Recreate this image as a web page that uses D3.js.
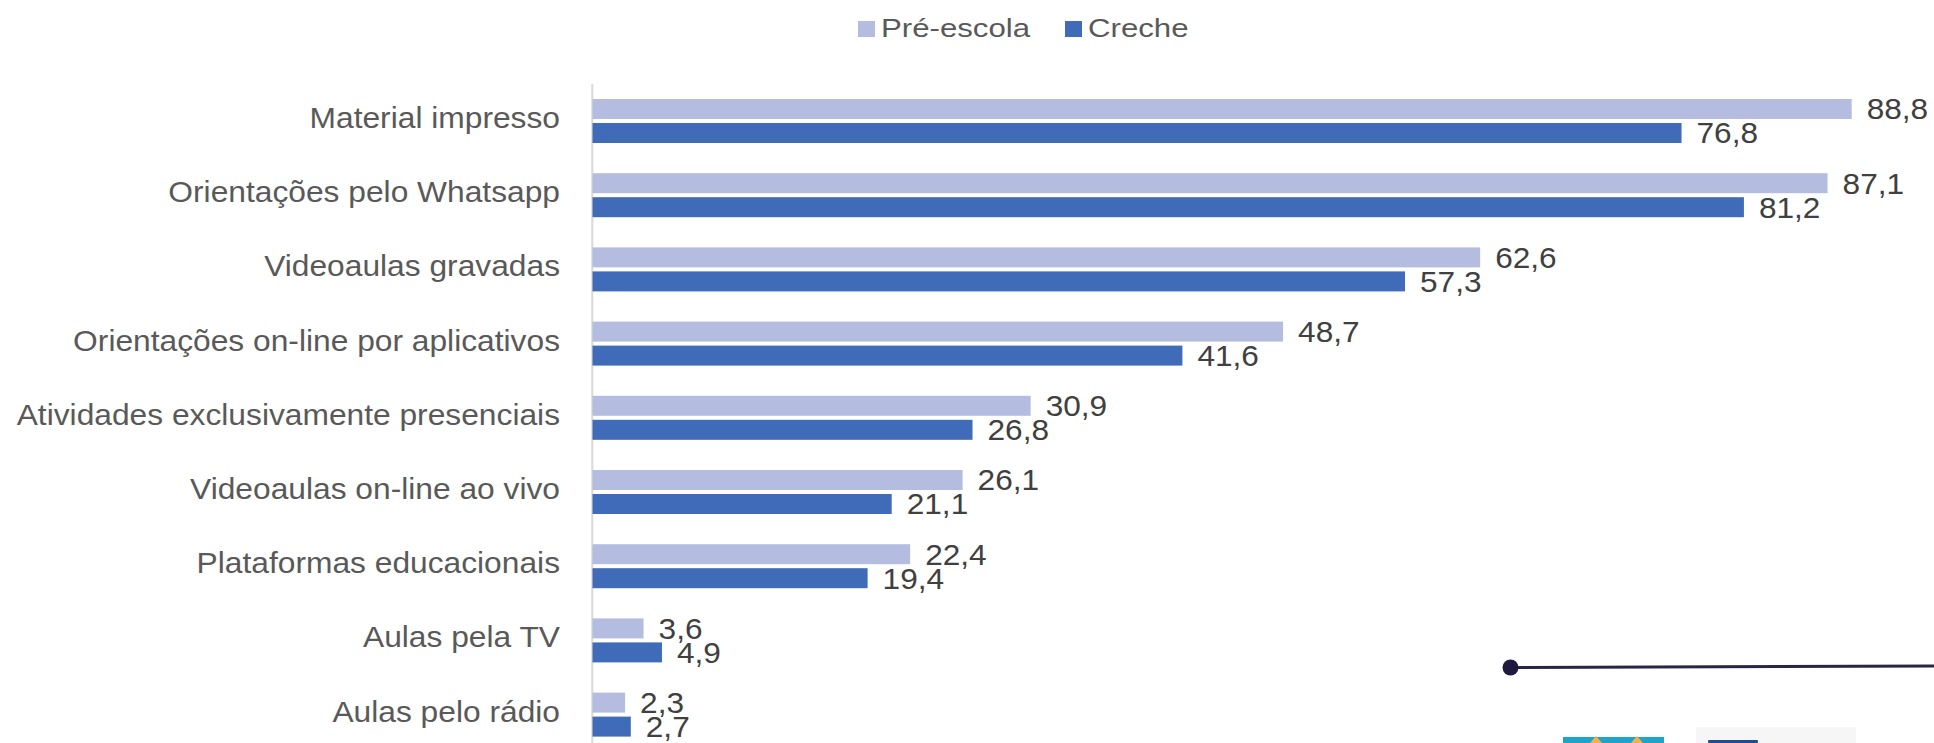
<!DOCTYPE html>
<html>
<head>
<meta charset="utf-8">
<script src="https://cdn.jsdelivr.net/npm/d3@7"></script>
<style>
  html, body { margin: 0; padding: 0; background: #ffffff; }
  svg { display: block; font-family: "Liberation Sans", Arial, sans-serif; }
</style>
</head>
<body>
<svg id="chart" width="1934" height="743"></svg>
<script>
const categories = [
  "Material impresso",
  "Orientações pelo Whatsapp",
  "Videoaulas gravadas",
  "Orientações on-line por aplicativos",
  "Atividades exclusivamente presenciais",
  "Videoaulas on-line ao vivo",
  "Plataformas educacionais",
  "Aulas pela TV",
  "Aulas pelo rádio"
];
const seriesNames = ["Pré-escola", "Creche"];
const preEscola = [88.8, 87.1, 62.6, 48.7, 30.9, 26.1, 22.4, 3.6, 2.3];
const creche    = [76.8, 81.2, 57.3, 41.6, 26.8, 21.1, 19.4, 4.9, 2.7];
const seriesValues = [preEscola, creche];
const colors = ["#b4bde0", "#3f6bb8"];

const svg = d3.select("#chart");
const fmt = v => d3.format(".1f")(v).replace(".", ",");

const x = d3.scaleLinear().domain([0, 100]).range([592.5, 2010.5]);
const y = d3.scaleBand().domain(categories)
  .range([83.9, 83.9 + 9 * 74.2]).paddingInner(0.407).paddingOuter(0.2035);
const ySub = d3.scaleBand().domain(seriesNames)
  .range([0, y.bandwidth()]).paddingInner(0.1667);

// axis line
svg.append("line")
  .attr("x1", 592.3).attr("x2", 592.3)
  .attr("y1", 84).attr("y2", 743)
  .attr("stroke", "#d9d9d9").attr("stroke-width", 2);

// category labels
svg.append("g").selectAll("text").data(categories).join("text")
  .attr("transform", d => `translate(560,${y(d) + y.bandwidth() / 2 + 7}) scale(1.095,1)`)
  .attr("text-anchor", "end")
  .attr("font-size", 29)
  .attr("fill", "#595959")
  .text(d => d);

// bars
seriesNames.forEach((s, si) => {
  const g = svg.append("g");
  const data = categories.map((c, i) => ({ c, v: seriesValues[si][i] }));
  g.selectAll("rect").data(data).join("rect")
    .attr("x", x(0))
    .attr("y", d => y(d.c) + ySub(s))
    .attr("width", d => x(d.v) - x(0))
    .attr("height", ySub.bandwidth())
    .attr("fill", colors[si]);
  g.selectAll("text").data(data).join("text")
    .attr("transform", d => `translate(${x(d.v) + 15},${y(d.c) + ySub(s) + ySub.bandwidth() / 2}) scale(1.09,1)`)
    .attr("dy", "0.36em")
    .attr("font-size", 29)
    .attr("fill", "#404040")
    .text(d => fmt(d.v));
});

// legend
const legendX = [858, 1065];
const legendTextX = [881, 1088];
seriesNames.forEach((s, si) => {
  svg.append("rect").attr("x", legendX[si]).attr("y", 21)
    .attr("width", 17).attr("height", 16).attr("fill", colors[si]);
  svg.append("text")
    .attr("transform", `translate(${legendTextX[si]},36.7) scale(1.2,1)`)
    .attr("font-size", 26).attr("fill", "#595959").text(s);
});

// decorative line with dot (bottom right)
svg.append("line").attr("x1", 1510).attr("y1", 667.5).attr("x2", 1934).attr("y2", 666)
  .attr("stroke", "#2a2545").attr("stroke-width", 3);
svg.append("circle").attr("cx", 1510.5).attr("cy", 667.5).attr("r", 8).attr("fill", "#1f1a3d");

// partially visible logos at the bottom edge
svg.append("rect").attr("x", 1563).attr("y", 737).attr("width", 101).attr("height", 6).attr("fill", "#1ea4c8");
svg.append("path").attr("d", "M1590,743 L1596,736 L1602,743 Z").attr("fill", "#f0b24a");
svg.append("path").attr("d", "M1631,743 L1637,736 L1643,743 Z").attr("fill", "#f0b24a");
svg.append("rect").attr("x", 1696).attr("y", 727).attr("width", 160).attr("height", 16).attr("fill", "#f6f6f6");
svg.append("rect").attr("x", 1708).attr("y", 740).attr("width", 50).attr("height", 3).attr("rx", 1).attr("fill", "#1c4f91");
</script>
</body>
</html>
